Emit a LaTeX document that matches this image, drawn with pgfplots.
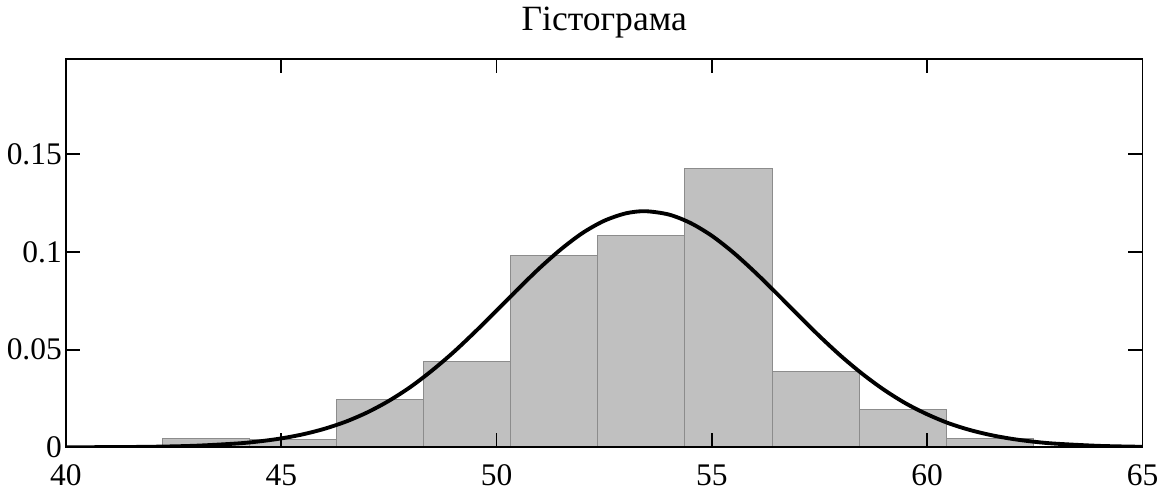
\documentclass[border=0pt]{standalone}
\usepackage{fontspec}
\setmainfont{Liberation Serif}
\usepackage{pgfplots}
\pgfplotsset{compat=1.18}
\definecolor{barfill}{RGB}{192,192,192}
\definecolor{baredge}{RGB}{140,140,140}
\begin{document}
\begin{tikzpicture}
\begin{axis}[
    width=530.5pt, height=191.5pt, scale only axis,
    xmin=40, xmax=65, ymin=0, ymax=0.199,
    xtick={40,45,50,55,60,65},
    ytick={0,0.05,0.1,0.15},
    yticklabels={0,0.05,0.1,0.15},
    tick align=inside,
    major tick length=7pt,
    axis line style={line width=0.9pt},
    every tick/.style={black, line width=0.9pt},
    font=\fontsize{15.5}{18}\selectfont,
    /pgf/number format/assume math mode=true,
    xticklabel style={yshift=-5pt},
    yticklabel style={xshift=1.5pt},
    title={Гістограма},
    title style={at={(0.5,1)}, anchor=base, yshift=8pt, font=\fontsize{17.5}{20}\selectfont},
    axis on top,
]
% histogram (density)
\addplot[ybar interval, fill=barfill, draw=baredge, line width=0.6pt]
coordinates {
    (42.24,0.0045) (44.26,0.0042) (46.29,0.0244) (48.31,0.0440)
    (50.33,0.0982) (52.35,0.1084) (54.37,0.1427) (56.40,0.0388)
    (58.42,0.0192) (60.44,0.0047) (62.46,0)
};
% fitted normal density
\addplot[smooth, black, line width=1.9pt]
coordinates {
    (40,0.00003) (41,0.0001) (42,0.00029) (43,0.0008) (44,0.0020)
    (44.5,0.00306) (45,0.00456) (45.5,0.00664) (46,0.00946) (46.5,0.01315)
    (47,0.0179) (47.5,0.0238) (48,0.0309) (48.5,0.0393) (49,0.0487)
    (49.5,0.0591) (50,0.0700) (50.5,0.0811) (51,0.0918) (51.5,0.1015)
    (52,0.1098) (52.5,0.1160) (53,0.1198) (53.45,0.1209) (54,0.1192)
    (54.5,0.1149) (55,0.1083) (55.5,0.0997) (56,0.0897) (56.5,0.0789)
    (57,0.0678) (57.5,0.0569) (58,0.0467) (58.5,0.0375) (59,0.0294)
    (59.5,0.0225) (60,0.0169) (60.5,0.0123) (61,0.00882) (61.5,0.00617)
    (62,0.00422) (62.5,0.00281) (63,0.00184) (64,0.00073) (65,0.00026)
};
\end{axis}
\end{tikzpicture}
\end{document}
